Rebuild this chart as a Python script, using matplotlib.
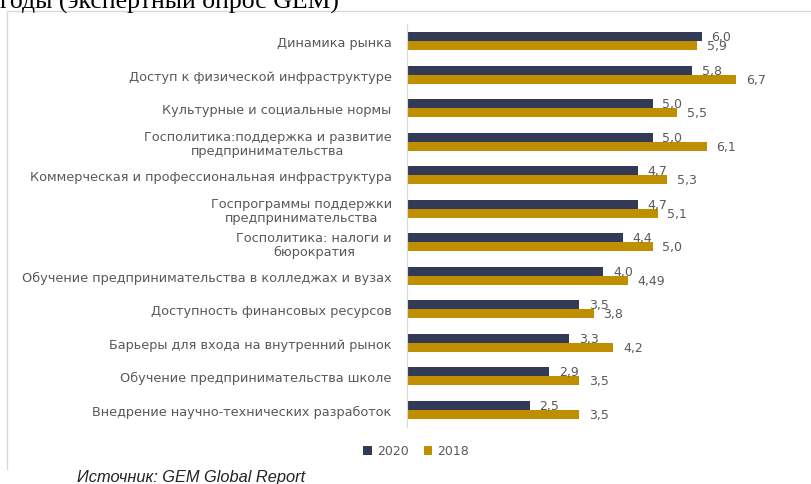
import matplotlib
matplotlib.use('Agg')
from matplotlib import pyplot as plt
import numpy as np

categories = [
    'Динамика рынка',
    'Доступ к физической инфраструктуре',
    'Культурные и социальные нормы',
    'Госполитика:поддержка и развитие\nпредпринимательства',
    'Коммерческая и профессиональная инфраструктура',
    'Госпрограммы поддержки\nпредпринимательства',
    'Госполитика: налоги и\nбюрократия',
    'Обучение предпринимательства в колледжах и вузах',
    'Доступность финансовых ресурсов',
    'Барьеры для входа на внутренний рынок',
    'Обучение предпринимательства школе',
    'Внедрение научно-технических разработок',
]
vals_2020 = [6.0, 5.8, 5.0, 5.0, 4.7, 4.7, 4.4, 4.0, 3.5, 3.3, 2.9, 2.5]
vals_2018 = [5.9, 6.7, 5.5, 6.1, 5.3, 5.1, 5.0, 4.49, 3.8, 4.2, 3.5, 3.5]
labels_2020 = ['6,0', '5,8', '5,0', '5,0', '4,7', '4,7', '4,4', '4,0', '3,5', '3,3', '2,9', '2,5']
labels_2018 = ['5,9', '6,7', '5,5', '6,1', '5,3', '5,1', '5,0', '4,49', '3,8', '4,2', '3,5', '3,5']

c2020 = '#333a55'
c2018 = '#bf8f00'
gray = '#595959'
plt.rcParams['font.family'] = ['DejaVu Sans']
fs = 9

fig = plt.figure(figsize=(8.12, 4.85), dpi=100)
W, H = 812, 485

# frame of the pasted chart (top and left edges only are visible)
fig.add_artist(plt.Line2D([7 / W, 1], [1 - 12 / H, 1 - 12 / H], color='#d9d9d9', lw=1))
fig.add_artist(plt.Line2D([7 / W, 7 / W], [1 - 12 / H, 1 - 470 / H], color='#d9d9d9', lw=1))

# clipped title from the document above the chart
fig.text(0.0, 1 - 9 / H, 'годы (экспертный опрос GEM)', family='Liberation Serif',
         fontsize=18.5, va='baseline', ha='left', color='black')

ax = fig.add_axes([407 / W, 1 - 427.75 / H, 393 / W, 402.5 / H])
y = np.arange(len(categories))
h = 0.27
ax.barh(y - h / 2, vals_2020, height=h, color=c2020, label='2020')
ax.barh(y + h / 2, vals_2018, height=h, color=c2018, label='2018')
for yi, v, t in zip(y, vals_2020, labels_2020):
    ax.annotate(t, (v, yi - h / 2), xytext=(7, 0), textcoords='offset points',
                va='center', ha='left', fontsize=fs, color=gray)
for yi, v, t in zip(y, vals_2018, labels_2018):
    ax.annotate(t, (v, yi + h / 2), xytext=(7, 0), textcoords='offset points',
                va='center', ha='left', fontsize=fs, color=gray)

ax.set_xlim(0, 8)
ax.set_ylim(11.5, -0.5)
ax.set_yticks(y)
ax.set_yticklabels(categories, fontsize=9.3, color=gray, multialignment='center',
                   linespacing=1.1)
ax.tick_params(axis='y', length=0, pad=11)
ax.set_xticks([])
for s in ['top', 'right', 'bottom']:
    ax.spines[s].set_visible(False)
ax.spines['left'].set_color('#d9d9d9')

fig.legend(loc='center', bbox_to_anchor=(416 / W, 1 - 452 / H), ncol=2, frameon=False,
           fontsize=fs, labelcolor=gray, handlelength=0.7, handleheight=0.7,
           handletextpad=0.4, columnspacing=1.2)

fig.text(77 / W, 1 - 478 / H, 'Источник: GEM Global Report', family='Liberation Sans',
         style='italic', fontsize=11.8, va='center', ha='left', color='#222222')

fig.savefig('out.png', dpi=100)
